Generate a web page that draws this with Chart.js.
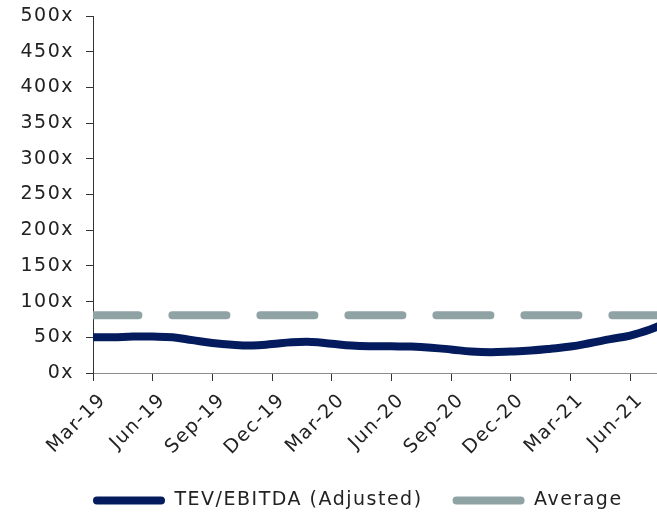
<!DOCTYPE html>
<html>
<head>
<meta charset="utf-8">
<script src="https://cdn.jsdelivr.net/npm/chart.js@4.4.1/dist/chart.umd.min.js"></script>
<style>
  html, body { margin: 0; padding: 0; background: #fff; overflow: hidden; }
  #wrap { position: relative; width: 670px; height: 520px; }
</style>
</head>
<body>
<div id="wrap"><canvas id="multiple"></canvas></div>
<script>
// monthly TEV/EBITDA multiple vs. long-run average
const months = ['Mar-19', 'Apr-19', 'May-19', 'Jun-19', 'Jul-19', 'Aug-19', 'Sep-19', 'Oct-19', 'Nov-19', 'Dec-19',
                'Jan-20', 'Feb-20', 'Mar-20', 'Apr-20', 'May-20', 'Jun-20', 'Jul-20', 'Aug-20', 'Sep-20', 'Oct-20',
                'Nov-20', 'Dec-20', 'Jan-21', 'Feb-21', 'Mar-21', 'Apr-21', 'May-21', 'Jun-21', 'Jul-21', 'Aug-21'];
const tevEbitda = [50, 50, 51, 51, 50, 46, 42, 39.5, 38.5, 40.5,
                   43, 43.5, 41, 38.5, 37.5, 37.3, 37, 35.5, 33, 30,
                   29, 30, 31.5, 34, 37, 42, 47.5, 52.5, 61, 72];
const averageMultiple = [81, 81, 81, 81, 81, 81, 81, 81, 81, 81,
                         81, 81, 81, 81, 81, 81, 81, 81, 81, 81,
                         81, 81, 81, 81, 81, 81, 81, 81, 81, 81];
const yTicks = { min: 0, max: 500, step: 50 };

const NAVY = '#041c5e';
const GREY = '#8fa3a5';
const FONT = { family: 'DejaVu Sans', size: 19 };
const LEGEND_PAD = 30;

// wider letters for all canvas text, legend lined up with the y axis
const tweaks = {
  id: 'tweaks',
  beforeUpdate(chart) { chart.ctx.letterSpacing = '1.5px'; },
  afterLayout(chart) { chart.legend.left = chart.chartArea.left - LEGEND_PAD; },
  beforeDraw(chart) { chart.ctx.letterSpacing = '1.5px'; }
};

const ctx = document.getElementById('multiple').getContext('2d');
const chart = new Chart(ctx, {
  type: 'line',
  data: {
    labels: months,
    datasets: [{
      label: 'TEV/EBITDA (Adjusted)',
      data: tevEbitda,
      borderColor: NAVY,
      backgroundColor: NAVY,
      borderWidth: 8,
      pointRadius: 0,
      tension: 0.4,
      clip: { left: 0, top: false, right: false, bottom: false }
    }, {
      label: 'Average',
      data: averageMultiple,
      borderColor: GREY,
      backgroundColor: GREY,
      borderWidth: 8,
      borderDash: [54, 34],
      borderDashOffset: 8.6,
      borderCapStyle: 'round',
      pointRadius: 0,
      clip: { left: 0, top: false, right: false, bottom: false }
    }]
  },
  options: {
    responsive: true,
    maintainAspectRatio: false,
    animation: false,
    layout: { padding: { left: 0, right: 0, top: 16, bottom: 0 } },
    plugins: {
      tooltip: { enabled: false },
      legend: {
        position: 'bottom',
        align: 'start',
        labels: {
          color: '#222',
          font: FONT,
          boxWidth: 72,
          boxHeight: 8,
          padding: LEGEND_PAD,
          useBorderRadius: true,
          borderRadius: 4,
          generateLabels(c) {
            return c.data.datasets.map((ds, i) => ({
              text: ds.label,
              fillStyle: ds.borderColor,
              strokeStyle: ds.borderColor,
              lineWidth: 0,
              borderRadius: 4,
              fontColor: '#222',
              hidden: false,
              datasetIndex: i
            }));
          }
        }
      }
    },
    scales: {
      x: {
        offset: false,
        border: { color: '#8c8c8c', width: 1 },
        grid: {
          drawOnChartArea: false,
          tickLength: 8,
          tickColor: c => (c.index % 3 === 0 ? '#333' : 'rgba(0,0,0,0)')
        },
        ticks: {
          autoSkip: false,
          minRotation: 45,
          maxRotation: 45,
          padding: 8,
          labelOffset: 10,
          color: '#222',
          font: FONT,
          callback: (v, i) => (i % 3 === 0 ? months[i] : '')
        },
        afterFit(scale) {
          scale.height = 88;
          scale.paddingLeft = 0;
          scale.paddingRight = 0;
        }
      },
      y: {
        min: yTicks.min,
        max: yTicks.max,
        border: { color: '#333', width: 1 },
        grid: { drawOnChartArea: false, tickLength: 7, tickColor: '#333' },
        ticks: {
          stepSize: yTicks.step,
          padding: 12,
          color: '#222',
          font: FONT,
          callback: v => v + 'x'
        },
        afterFit(scale) {
          scale.width = 93;
          scale.paddingTop = 0;
          scale.paddingBottom = 0;
        }
      }
    }
  },
  plugins: [tweaks]
});
</script>
</body>
</html>
